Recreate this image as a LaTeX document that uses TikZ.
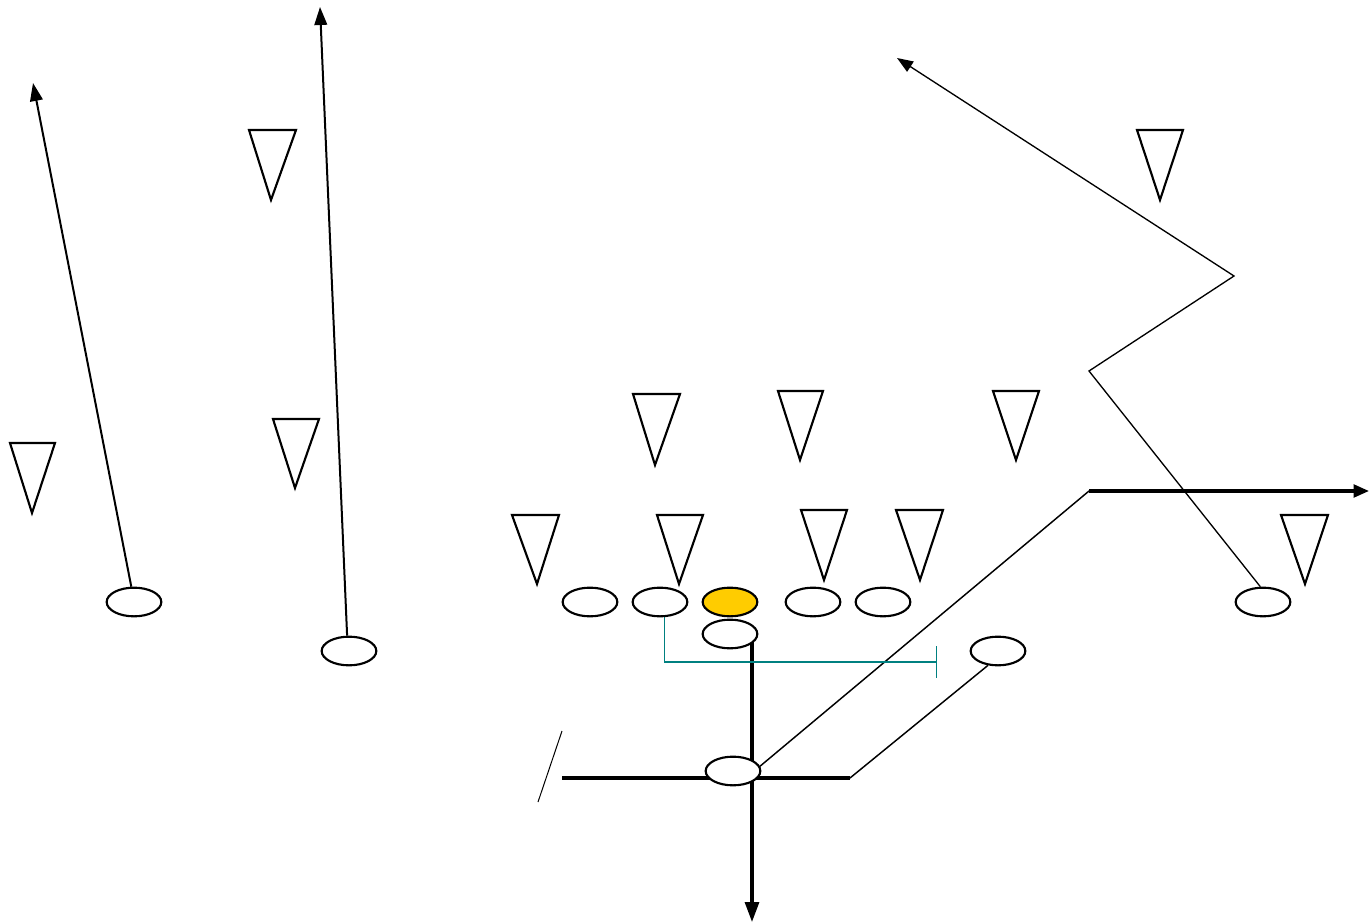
\documentclass[tikz,border=0pt]{standalone}
\usetikzlibrary{shapes.geometric,arrows.meta}
\pgfdeclarelayer{bg}
\pgfsetlayers{bg,main}
\definecolor{gold}{HTML}{FFCC00}
\definecolor{tealc}{HTML}{008080}
\begin{document}
\begin{tikzpicture}[x=0.75pt,y=-0.75pt,
  player/.style={ellipse,draw,line width=1.6pt,fill=white,minimum width=41pt,minimum height=21.5pt,inner sep=0pt},
  defender/.style={draw,line width=1.6pt,line join=miter},
  route/.style={line width=1.5pt},
  thinroute/.style={line width=1pt},
  block/.style={line width=2.3pt},
  tip/.style={-{Triangle[length=13.5pt,width=9.5pt]}},
  smalltip/.style={-{Triangle[length=12pt,width=9pt]}}]
\useasboundingbox (0,0) rectangle (1370,923);

% defenders
\draw[defender] (10,443) -- (55,443) -- (32,513) -- cycle;
\draw[defender] (249,130) -- (296,130) -- (271,200) -- cycle;
\draw[defender] (273,419) -- (319,419) -- (295,488) -- cycle;
\draw[defender] (633,394) -- (680,394) -- (655,465) -- cycle;
\draw[defender] (778,391) -- (823,391) -- (800,460) -- cycle;
\draw[defender] (993,391) -- (1039,391) -- (1016,460) -- cycle;
\draw[defender] (1137,130) -- (1183,130) -- (1160,200) -- cycle;
\draw[defender] (512,515) -- (559,515) -- (537,584) -- cycle;
\draw[defender] (657,515) -- (703,515) -- (679,584) -- cycle;
\draw[defender] (801,510) -- (847,510) -- (824,580) -- cycle;
\draw[defender] (896,510) -- (943,510) -- (920,580) -- cycle;
\draw[defender] (1281,515) -- (1328,515) -- (1305,584) -- cycle;

% offense
\node[player] (e1) at (134,602) {};
\node[player] (e2) at (349,651) {};
\node[player] (e3) at (590,602) {};
\node[player] (e4) at (660,602) {};
\node[player,fill=gold] (e5) at (730,602) {};
\node[player] (e6) at (813,602) {};
\node[player] (e7) at (883,602) {};
\node[player] (e8) at (730,634) {};
\node[player] (e9) at (998,651) {};
\node[player] (e10) at (733,771) {};
\node[player] (e11) at (1263,602) {};

% route end points
\coordinate (a1) at (33,83);
\coordinate (a2) at (320,7);
\coordinate (z1) at (1089,371);
\coordinate (z2) at (1234,276);
\coordinate (a3) at (897,58);
\coordinate (vb) at (752,922);
\coordinate (hl) at (562,778);
\coordinate (hr) at (850,778);
\coordinate (c1) at (1089,491);
\coordinate (a4) at (1369,491);
\coordinate (tb) at (937,662);

\begin{pgfonlayer}{bg}
\draw[route,tip] (e1.100) -- (a1);
\draw[route,tip] (e2.97) -- (a2);
\draw[thinroute,smalltip] (e11.100) -- (z1) -- (z2) -- (a3);
\draw[block,-{Triangle[length=15pt,width=10.5pt]}] (e8.center -| vb) -- (vb);
\draw[block] (hl) -- (hr);
\draw[line width=1.1pt] (hr) -- (e9.235);
\draw[line width=1.1pt] (e10.10) -- (c1);
\draw[block,-{Triangle[length=11.5pt,width=9.5pt]}] (c1) -- (a4);
\draw[tealc,line width=1.1pt,-{Bar[width=24pt]}] (e4.-74) |- (tb);
\end{pgfonlayer}

% slash mark
\draw[line width=0.75pt] (562,731) -- (538,802);
\end{tikzpicture}
\end{document}
